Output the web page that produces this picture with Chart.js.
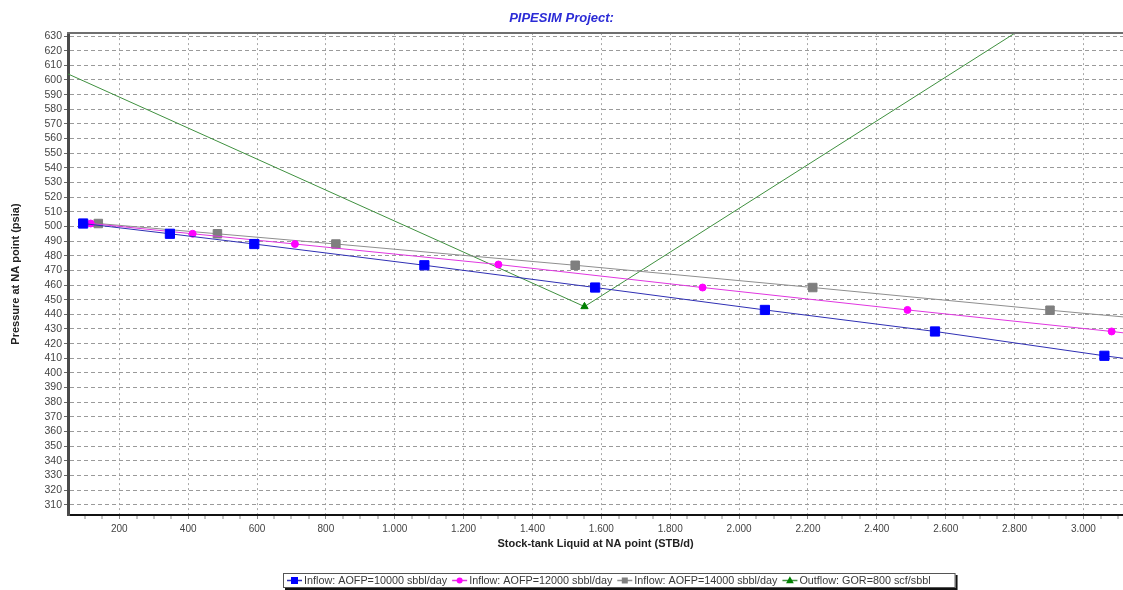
<!DOCTYPE html>
<html>
<head>
<meta charset="utf-8">
<title>PIPESIM Project</title>
<script src="https://cdn.jsdelivr.net/npm/chart.js@4.4.1/dist/chart.umd.min.js"></script>
<style>
  html, body { margin: 0; padding: 0; background: #ffffff; }
  #wrap { width: 1123px; height: 590px; }
</style>
</head>
<body>
<div id="wrap"><canvas id="na" width="1123" height="590"></canvas></div>
<script>
// Nodal analysis at the NA point: three inflow (IPR) curves and one outflow curve.
// Liquid rates in STB/d, pressures in psia.
const inflow10Rate = [95, 347, 592, 1086, 1582, 2075, 2569, 3061, 3555];
const inflow10Pwf  = [502, 495, 488, 473.5, 458.3, 443, 428.3, 411.7, 396.5];

const inflow12Rate = [117, 413, 710, 1301, 1894, 2489, 3082, 3675];
const inflow12Pwf  = [502, 495, 488, 474, 458.3, 443, 428.3, 412];

const inflow14Rate = [139, 485, 829, 1524, 2214, 2903, 3593];
const inflow14Pwf  = [502, 495, 488, 473.5, 458.3, 442.8, 428];

const outflowRate = [0, 1551, 3000];
const outflowPwf  = [609.5, 445.3, 661.7];

const seriesLabels = [
  'Inflow: AOFP=10000 sbbl/day',
  'Inflow: AOFP=12000 sbbl/day',
  'Inflow: AOFP=14000 sbbl/day',
  'Outflow: GOR=800 scf/sbbl'
];

// Axis ranges and tick spacing
const xAxisMin = 51, xAxisMax = 3115, xMajorStep = 200, xMinorStep = 50;
const yAxisMin = 303, yAxisMax = 632, yStep = 10;

const FONT = '"Liberation Sans", Arial, Helvetica, sans-serif';
Chart.defaults.font.family = FONT;

const toPoints = (xs, ys) => xs.map((x, i) => ({ x: x, y: ys[i] }));

// "1.000" style thousands separator
function fmtThousands(v) {
  const n = Math.round(v);
  if (n < 1000) return String(n);
  const hi = Math.floor(n / 1000), lo = n % 1000;
  return hi + '.' + String(lo).padStart(3, '0');
}

// Solid frame line along the top of the plot
const plotFrame = {
  id: 'plotFrame',
  afterDatasetsDraw(chart) {
    const { ctx, chartArea: a } = chart;
    ctx.save();
    ctx.strokeStyle = '#6f6f6f';
    ctx.lineWidth = 2;
    ctx.beginPath();
    ctx.moveTo(a.left - 1, a.top);
    ctx.lineTo(a.right, a.top);
    ctx.stroke();
    ctx.restore();
  }
};

function drawMarker(ctx, style, x, y, size, color) {
  ctx.fillStyle = color;
  ctx.beginPath();
  if (style === 'circle') {
    ctx.arc(x, y, size / 2, 0, Math.PI * 2);
  } else if (style === 'triangle') {
    ctx.moveTo(x, y - size * 0.6);
    ctx.lineTo(x + size * 0.55, y + size * 0.4);
    ctx.lineTo(x - size * 0.55, y + size * 0.4);
    ctx.closePath();
  } else {
    ctx.rect(x - size / 2, y - size / 2, size, size);
  }
  ctx.fill();
}

// Boxed legend row beneath the axis title
const boxedLegend = {
  id: 'boxedLegend',
  afterDraw(chart, args, opts) {
    const ctx = chart.ctx;
    const sets = chart.data.datasets;
    ctx.save();
    ctx.font = opts.fontSize + 'px ' + FONT;
    const symW = 15, symGap = 2, itemGap = 5;
    let contentW = 0;
    sets.forEach(ds => { contentW += symW + symGap + ctx.measureText(ds.label).width + itemGap; });
    const left = opts.left, top = opts.top, h = opts.height;
    const w = 4 + contentW + opts.tail;
    // drop shadow then box
    ctx.fillStyle = '#111111';
    ctx.fillRect(left + 2, top + 2, w, h);
    ctx.fillStyle = '#ffffff';
    ctx.fillRect(left, top, w, h);
    ctx.strokeStyle = '#555555';
    ctx.lineWidth = 1;
    ctx.strokeRect(left + 0.5, top + 0.5, w - 1, h - 1);

    const cy = top + h / 2;
    let x = left + 4;
    ctx.textBaseline = 'middle';
    ctx.textAlign = 'left';
    sets.forEach(ds => {
      ctx.strokeStyle = ds.borderColor;
      ctx.lineWidth = 1.5;
      ctx.beginPath();
      ctx.moveTo(x, cy);
      ctx.lineTo(x + symW, cy);
      ctx.stroke();
      drawMarker(ctx, ds.pointStyle, x + symW / 2, cy, ds.legendMarker, ds.pointBackgroundColor);
      x += symW + symGap;
      ctx.fillStyle = '#383838';
      ctx.fillText(ds.label, x, cy + 0.5);
      x += ctx.measureText(ds.label).width + itemGap;
    });
    ctx.restore();
  }
};

const datasets = [
  {
    label: seriesLabels[0],
    data: toPoints(inflow10Rate, inflow10Pwf),
    borderColor: '#2f2fb4',
    pointStyle: 'rect',
    pointRadius: 6.5,
    pointBackgroundColor: '#0000ff',
    pointBorderColor: '#0000ff',
    legendMarker: 7
  },
  {
    label: seriesLabels[1],
    data: toPoints(inflow12Rate, inflow12Pwf),
    borderColor: '#e036e0',
    pointStyle: 'circle',
    pointRadius: 3.5,
    pointBackgroundColor: '#ff00ff',
    pointBorderColor: '#ff00ff',
    legendMarker: 6
  },
  {
    label: seriesLabels[2],
    data: toPoints(inflow14Rate, inflow14Pwf),
    borderColor: '#8e8e8e',
    pointStyle: 'rect',
    pointRadius: 6,
    pointBackgroundColor: '#7f7f7f',
    pointBorderColor: '#7f7f7f',
    legendMarker: 6
  },
  {
    label: seriesLabels[3],
    data: toPoints(outflowRate, outflowPwf),
    borderColor: '#3f903f',
    pointStyle: 'triangle',
    pointRadius: 4.2,
    pointBackgroundColor: '#008000',
    pointBorderColor: '#008000',
    legendMarker: 7
  }
].map(ds => Object.assign({
  borderWidth: 1,
  pointBorderWidth: 1,
  tension: 0,
  fill: false,
  showLine: true
}, ds));

new Chart(document.getElementById('na'), {
  type: 'line',
  data: { datasets: datasets },
  options: {
    responsive: false,
    animation: false,
    events: [],
    layout: { autoPadding: false, padding: { left: 0, right: 0, top: 0, bottom: 35 } },
    plugins: {
      legend: { display: false },
      tooltip: { enabled: false },
      title: {
        display: true,
        text: 'PIPESIM Project:',
        color: '#2b2bd6',
        font: { size: 13, weight: 'bold', style: 'italic', family: FONT },
        padding: { top: 10.5, bottom: 7 }
      },
      boxedLegend: { left: 283, top: 573, height: 15, fontSize: 10.8, tail: 20 }
    },
    scales: {
      x: {
        type: 'linear',
        position: 'bottom',
        min: xAxisMin,
        max: xAxisMax,
        afterFit: s => { s.height = 40; s.paddingLeft = 0; s.paddingRight = 0; },
        ticks: {
          stepSize: xMinorStep,
          includeBounds: false,
          autoSkip: false,
          maxRotation: 0,
          minRotation: 0,
          padding: 4,
          color: '#444444',
          font: { size: 10 },
          callback: v => (v % xMajorStep === 0 ? fmtThousands(v) : '')
        },
        grid: {
          color: '#a8a8a8',
          lineWidth: c => (c.tick && c.tick.value % xMajorStep === 0 ? 1 : 0),
          tickLength: 4,
          tickColor: '#8a8a8a',
          tickWidth: 1
        },
        border: { display: true, color: '#111111', width: 2, dash: [2, 3] },
        title: {
          display: true,
          text: 'Stock-tank Liquid at NA point (STB/d)',
          color: '#222222',
          font: { size: 11, weight: 'bold' },
          padding: { top: 0, bottom: 4.4 }
        }
      },
      y: {
        type: 'linear',
        position: 'left',
        min: yAxisMin,
        max: yAxisMax,
        afterFit: s => { s.width = 68; },
        ticks: {
          stepSize: yStep,
          includeBounds: false,
          autoSkip: false,
          padding: 2,
          color: '#444444',
          font: { size: 10.5 },
          callback: v => String(v)
        },
        grid: {
          color: '#9a9a9a',
          lineWidth: 1,
          tickLength: 4,
          tickColor: '#666666',
          tickWidth: 1
        },
        border: { display: true, color: '#4a4a4a', width: 3, dash: [4, 3] },
        title: {
          display: true,
          text: 'Pressure at NA point (psia)',
          color: '#222222',
          font: { size: 11, weight: 'bold' },
          padding: { top: 9.4, bottom: 0 }
        }
      }
    }
  },
  plugins: [plotFrame, boxedLegend]
});
</script>
</body>
</html>
